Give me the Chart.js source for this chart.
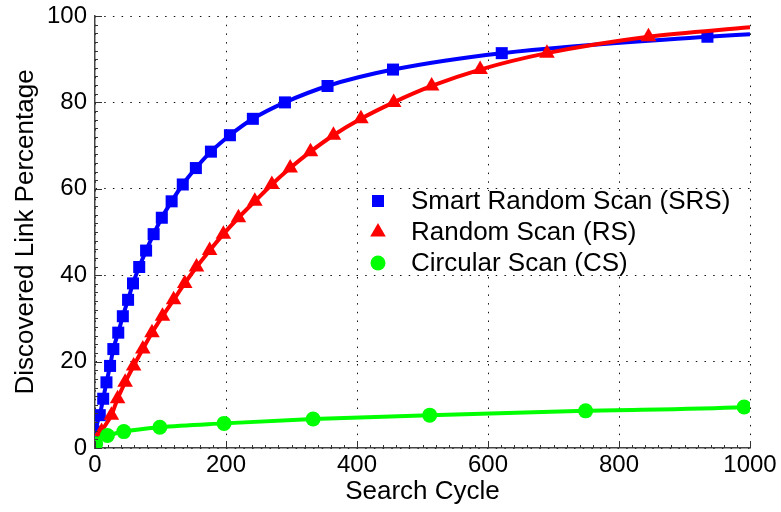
<!DOCTYPE html>
<html>
<head>
<meta charset="utf-8">
<script src="https://cdn.jsdelivr.net/npm/chart.js@4.4.0/dist/chart.umd.min.js"></script>
<style>
html, body { margin: 0; padding: 0; background: #fff; }
#wrap { width: 781px; height: 512px; }
</style>
</head>
<body>
<div id="wrap"><canvas id="myChart"></canvas></div>
<script>
var seriesNames = ["Smart Random Scan (SRS)", "Random Scan (RS)", "Circular Scan (CS)"];

// markers (search cycle, % of links found)
var srsCycle = [1.5, 7.3, 12.5, 17.5, 23, 28, 35.5, 42.5, 50.5, 58, 67.5, 78, 89.5, 102, 117, 134, 154, 177, 206, 241, 290, 355, 455, 621, 935];
var srsPct = [3.8, 7.6, 11.4, 15.2, 19.0, 22.9, 26.7, 30.5, 34.3, 38.1, 41.9, 45.7, 49.5, 53.3, 57.1, 61.0, 64.8, 68.6, 72.4, 76.2, 80.0, 83.8, 87.6, 91.4, 95.2];
var srsEndPct = 95.8;

var rsCycle = [10, 25, 34.5, 46, 59, 73, 87, 103, 120, 137, 155, 175, 196, 219, 244, 270, 298, 329, 364, 406, 456, 514, 588, 690, 845];
var rsPct = [3.8, 7.6, 11.4, 15.2, 19.0, 22.9, 26.7, 30.5, 34.3, 38.1, 41.9, 45.7, 49.5, 53.3, 57.1, 61.0, 64.8, 68.6, 72.4, 76.2, 80.0, 83.8, 87.6, 91.4, 95.2];
var rsEndPct = 97.4;

var csCycle = [1, 19, 44, 99, 197, 333, 511, 749, 991];
var csPct = [1.0, 2.9, 3.8, 4.8, 5.7, 6.7, 7.6, 8.6, 9.5];
var csEndPct = 9.6;

var xTicks = [0, 200, 400, 600, 800, 1000];
var yTicks = [0, 20, 40, 60, 80, 100];

var fontFamily = '"Liberation Sans", Arial, sans-serif';

// curve runs from the origin through the markers to the right edge
function toPoints(xs, ys, endPct) {
    var pts = [{ x: 0, y: 0 }];
    for (var i = 0; i < xs.length; i++) {
        pts.push({ x: xs[i], y: ys[i] });
    }
    pts.push({ x: xTicks[xTicks.length - 1], y: endPct });
    return pts;
}

function markerRadius(r) {
    return function (c) {
        var n = c.dataset.data.length;
        return (c.dataIndex === 0 || c.dataIndex === n - 1) ? 0 : r;
    };
}

function makeSet(label, color, style, radius, pts, order) {
    return {
        label: label,
        data: pts,
        borderColor: color,
        backgroundColor: color,
        borderWidth: 4,
        pointStyle: style,
        pointRadius: markerRadius(radius),
        legendRadius: radius,
        pointBorderWidth: 0,
        cubicInterpolationMode: 'monotone',
        order: order
    };
}

var insideLegend = {
    id: 'insideLegend',
    afterDatasetsDraw: function (chart) {
        var ctx = chart.ctx;
        var xs = chart.scales.x, ys = chart.scales.y, area = chart.chartArea;
        ctx.save();

        // inward tick marks, minor every 20 on x and every 2 on y
        ctx.strokeStyle = '#333';
        ctx.lineWidth = 1;
        ctx.beginPath();
        for (var v = 0; v <= 1000; v += 20) {
            var px = Math.round(xs.getPixelForValue(v)) + 0.5;
            var len = v % 200 === 0 ? 7 : 3;
            ctx.moveTo(px, area.bottom);
            ctx.lineTo(px, area.bottom - len);
        }
        for (var w = 0; w <= 100; w += 2) {
            var py = Math.round(ys.getPixelForValue(w)) + 0.5;
            var len2 = w % 20 === 0 ? 7 : 3;
            ctx.moveTo(area.left, py);
            ctx.lineTo(area.left + len2, py);
        }
        ctx.stroke();

        // legend box inside the plot
        ctx.fillStyle = '#fff';
        ctx.fillRect(360, 191, 378, 84);
        ctx.font = '26px ' + fontFamily;
        ctx.textBaseline = 'middle';
        ctx.textAlign = 'left';
        chart.data.datasets.forEach(function (ds, i) {
            var y = 201 + i * 31;
            ctx.fillStyle = ds.backgroundColor;
            Chart.helpers.drawPoint(ctx, { pointStyle: ds.pointStyle, radius: ds.legendRadius, rotation: 0, borderWidth: 0 }, 378, y);
            ctx.fillStyle = '#000';
            ctx.fillText(ds.label, 411, y + 1);
        });
        ctx.restore();
    }
};

new Chart("myChart", {
    type: "line",
    data: {
        datasets: [
            makeSet(seriesNames[0], '#0000ff', 'rect', 8.5, toPoints(srsCycle, srsPct, srsEndPct), 3),
            makeSet(seriesNames[1], '#ff0000', 'triangle', 9, toPoints(rsCycle, rsPct, rsEndPct), 2),
            makeSet(seriesNames[2], '#00ff00', 'circle', 7.5, toPoints(csCycle, csPct, csEndPct), 1)
        ]
    },
    plugins: [insideLegend],
    options: {
        responsive: true,
        maintainAspectRatio: false,
        animation: false,
        layout: { padding: { top: 16, right: 31, left: 0, bottom: 0 } },
        plugins: {
            legend: { display: false },
            tooltip: { enabled: false }
        },
        scales: {
            x: {
                type: 'linear',
                min: 0,
                max: 1000,
                afterFit: function (s) { s.height = 64; s.paddingLeft = 0; s.paddingRight = 0; },
                afterBuildTicks: function (s) { s.ticks = xTicks.map(function (v) { return { value: v }; }); },
                ticks: {
                    color: '#000', padding: 3, font: { family: fontFamily, size: 24 }, maxRotation: 0,
                    callback: function (v) { return String(v); }
                },
                grid: { color: '#111', lineWidth: 1, drawTicks: false },
                border: { display: true, color: '#444', width: 1.5, dash: [1.5, 7.2] },
                title: { display: true, text: 'Search Cycle', color: '#000', font: { family: fontFamily, size: 26 }, padding: { top: 0, bottom: 5 } }
            },
            y: {
                type: 'linear',
                min: 0,
                max: 100,
                afterFit: function (s) { s.width = 95; s.paddingTop = 0; s.paddingBottom = 0; },
                afterBuildTicks: function (s) { s.ticks = yTicks.map(function (v) { return { value: v }; }); },
                ticks: {
                    color: '#000', padding: 8, font: { family: fontFamily, size: 24 },
                    callback: function (v) { return String(v); }
                },
                grid: { color: '#111', lineWidth: 1, drawTicks: false },
                border: { display: true, color: '#444', width: 1.5, dash: [1.5, 7.2] },
                title: { display: true, text: 'Discovered Link Percentage', color: '#000', font: { family: fontFamily, size: 26 }, padding: { top: 10, bottom: 0 } }
            }
        }
    }
});
</script>
</body>
</html>
